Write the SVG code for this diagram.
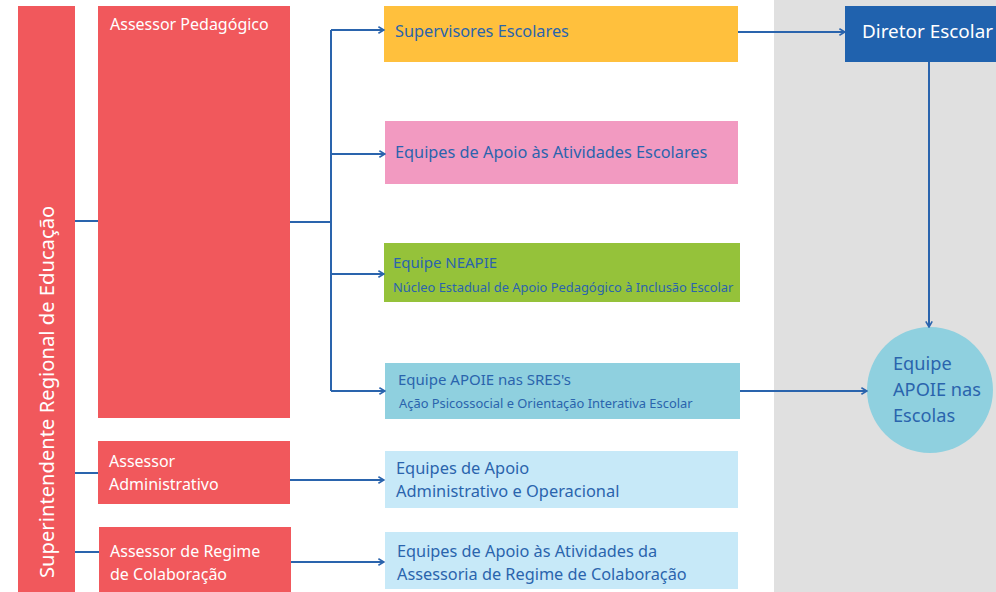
<svg xmlns="http://www.w3.org/2000/svg" width="996" height="592" viewBox="0 0 996 592">
<defs>
<marker id="arr" viewBox="0 0 10 10" refX="9" refY="5" markerWidth="8" markerHeight="8" markerUnits="userSpaceOnUse" orient="auto">
<polyline points="2,1 9,5 2,9" fill="none" stroke="#2a64ad" stroke-width="2"/>
</marker>
<style>
text{font-family:"Noto Sans","Open Sans",sans-serif}
.red{fill:#f1585c}
.w{fill:#ffffff}
.b{fill:#2a64ad}
.c{fill:none;stroke:#2a64ad;stroke-width:2}
.a{marker-end:url(#arr)}
</style>
</defs>
<rect x="774" y="0" width="222" height="592" fill="#e0e0e0"/>
<g id="superintendente">
<rect class="red" x="18" y="6" width="57" height="586"/>
<text class="w" font-size="20.2" transform="translate(54,578) rotate(-90)">Superintendente Regional de Educação</text>
</g>
<g id="assessor-pedagogico">
<rect class="red" x="98" y="6" width="192" height="412"/>
<text class="w" font-size="16" x="110" y="30">Assessor Pedagógico</text>
</g>
<g id="assessor-administrativo">
<rect class="red" x="98" y="441" width="192" height="63"/>
<text class="w" font-size="16" x="109" y="467">Assessor</text>
<text class="w" font-size="16" x="109" y="490">Administrativo</text>
</g>
<g id="assessor-regime">
<rect class="red" x="99" y="527" width="192" height="65"/>
<text class="w" font-size="16" x="110" y="557">Assessor de Regime</text>
<text class="w" font-size="16" x="110" y="580">de Colaboração</text>
</g>
<g id="supervisores">
<rect x="384" y="6" width="354" height="56" fill="#ffc03d"/>
<text class="b" font-size="16.3" x="395" y="37">Supervisores Escolares</text>
</g>
<g id="equipes-apoio-atividades">
<rect x="385" y="121" width="353" height="63" fill="#f29ac1"/>
<text class="b" font-size="16.3" x="395" y="158">Equipes de Apoio às Atividades Escolares</text>
</g>
<g id="neapie">
<rect x="384" y="243" width="356" height="59" fill="#95c23a"/>
<text class="b" font-size="15" x="393" y="268">Equipe NEAPIE</text>
<text class="b" font-size="12.9" x="393" y="292">Núcleo Estadual de Apoio Pedagógico à Inclusão Escolar</text>
</g>
<g id="apoie-sres">
<rect x="385" y="363" width="355" height="56" fill="#8fd0df"/>
<text class="b" font-size="15" x="398" y="385">Equipe APOIE nas SRES's</text>
<text class="b" font-size="12.9" x="399" y="408">Ação Psicossocial e Orientação Interativa Escolar</text>
</g>
<g id="equipes-admin">
<rect x="385" y="451" width="353" height="57" fill="#c7e9f8"/>
<text class="b" font-size="16.4" x="396" y="474">Equipes de Apoio</text>
<text class="b" font-size="16.4" x="396" y="497">Administrativo e Operacional</text>
</g>
<g id="equipes-regime">
<rect x="385" y="532" width="353" height="57" fill="#c7e9f8"/>
<text class="b" font-size="16.3" x="397" y="557">Equipes de Apoio às Atividades da</text>
<text class="b" font-size="16.3" x="397" y="580">Assessoria de Regime de Colaboração</text>
</g>
<g id="diretor">
<rect x="845" y="6" width="151" height="56" fill="#2062ae"/>
<text class="w" font-size="18.9" x="862" y="38">Diretor Escolar</text>
</g>
<g id="apoie-escolas">
<circle cx="930" cy="390" r="63" fill="#8fd0df"/>
<text class="b" font-size="18.2" x="893" y="370">Equipe</text>
<text class="b" font-size="18.2" x="893" y="396">APOIE nas</text>
<text class="b" font-size="18.2" x="893" y="422">Escolas</text>
</g>
<g id="connectors">
<path class="c" d="M75,221H98"/>
<path class="c" d="M75,473H98"/>
<path class="c" d="M75,552H99"/>
<path class="c" d="M290,222H331"/>
<path class="c" d="M331,30V391"/>
<path class="c a" d="M331,30H384"/>
<path class="c a" d="M331,154H385"/>
<path class="c a" d="M331,274H384"/>
<path class="c a" d="M331,391H385"/>
<path class="c a" d="M290,480H384"/>
<path class="c a" d="M291,562H384"/>
<path class="c a" d="M738,32H845"/>
<path class="c a" d="M929,62V327"/>
<path class="c a" d="M740,391H867"/>
</g>
</svg>
